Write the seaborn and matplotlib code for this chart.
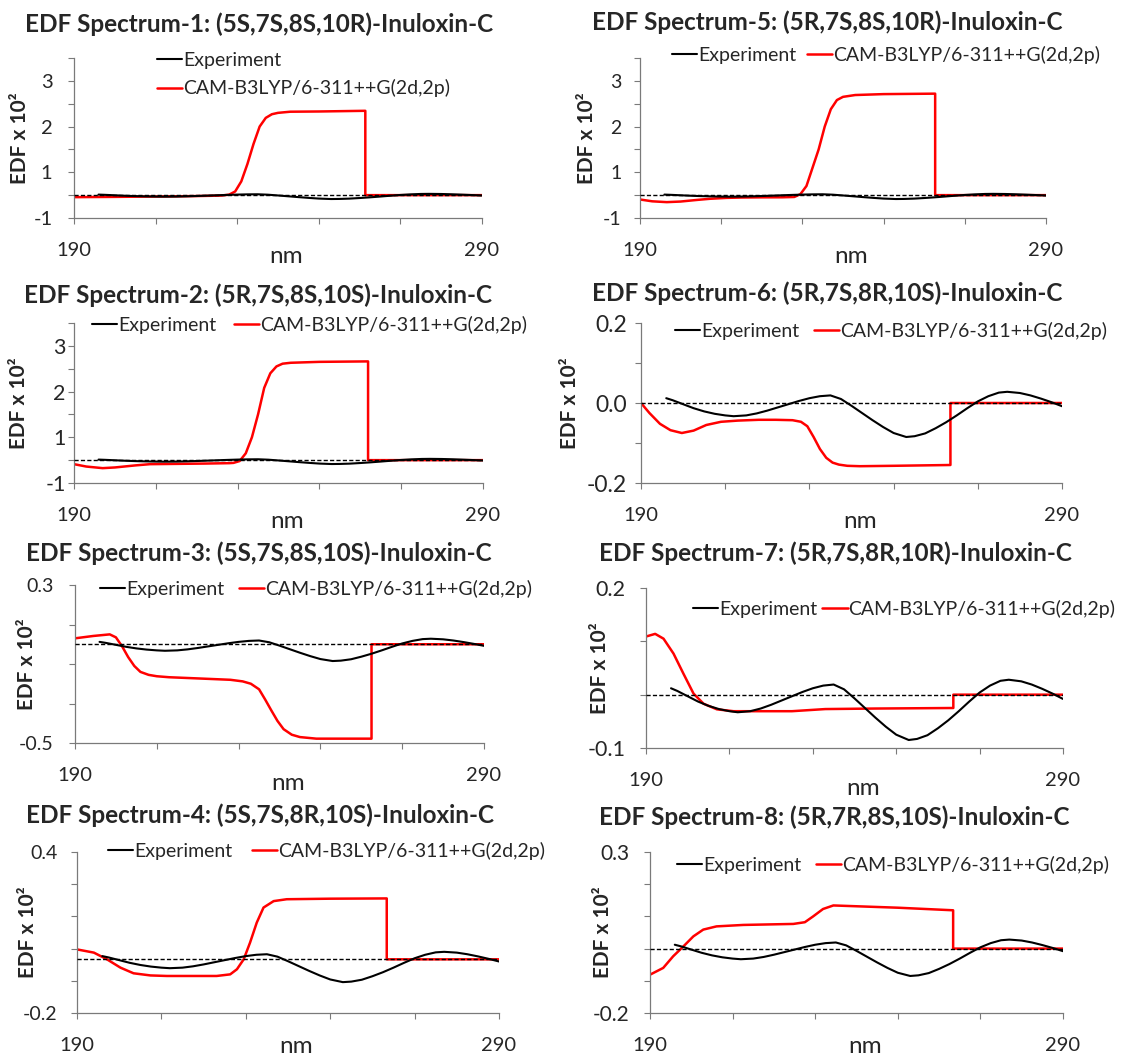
import numpy as np
import pandas as pd
import matplotlib
matplotlib.use("Agg")
import matplotlib.pyplot as plt
import seaborn as sns

sns.set_style("ticks")
plt.rcParams["font.family"] = ["Lato", "DejaVu Sans"]

W, H = 1126, 1059
EXP_LABEL = "Experiment"
CALC_LABEL = "CAM-B3LYP/6-311++G(2d,2p)"

# ---- experimental EDF (same curve in every panel) ----
exp_wl = [196, 197.5, 200, 202.5, 205, 207.5, 210, 212, 215, 217.5, 220, 222.5, 225,
          227.5, 230, 232.5, 235, 237.5, 240, 242.5, 245, 247.5, 250, 253, 255, 257.5,
          260, 262.5, 265, 267.5, 270, 272.5, 275, 277, 280, 282.5, 285, 287.5, 290]
exp_edf = [0.012, 0.007, -0.003, -0.013, -0.021, -0.027, -0.031, -0.033, -0.031, -0.026,
           -0.019, -0.011, -0.003, 0.005, 0.012, 0.017, 0.019, 0.010, -0.007, -0.025,
           -0.043, -0.060, -0.075, -0.085, -0.083, -0.076, -0.063, -0.048, -0.031, -0.013,
           0.004, 0.017, 0.026, 0.028, 0.025, 0.019, 0.011, 0.002, -0.008]

# ---- calculated EDF, one per stereoisomer ----
calc1_wl = [190, 200, 210, 220, 226, 228, 229.5, 231, 232.5, 234, 235.5, 237, 238.5, 240,
            243, 250, 261.4, 261.4, 270, 280, 290]
calc1_edf = [-0.044, -0.038, -0.03, -0.02, -0.01, 0.01, 0.08, 0.3, 0.68, 1.12, 1.50, 1.69,
             1.77, 1.80, 1.825, 1.83, 1.845, 0, 0, 0, 0]

calc2_wl = [190, 193, 197, 200, 205, 208.6, 216.7, 222, 228, 229, 230.5, 232, 233.5, 235,
            236.5, 238, 239.5, 241, 243, 250, 261.9, 261.9, 270, 290]
calc2_edf = [-0.088, -0.14, -0.175, -0.16, -0.115, -0.088, -0.08, -0.075, -0.066, -0.06,
             -0.02, 0.15, 0.5, 1.0, 1.58, 1.9, 2.05, 2.11, 2.13, 2.15, 2.16, 0, 0, 0]

calc3_wl = [190, 194.5, 198.5, 200, 201.5, 203, 204.5, 206, 208, 210, 213, 220, 228, 231,
            233, 235, 236.5, 238, 239.5, 241, 243, 245, 249, 262.5, 262.5, 270, 290]
calc3_edf = [0.030, 0.042, 0.050, 0.035, -0.01, -0.065, -0.11, -0.14, -0.155, -0.162,
             -0.167, -0.173, -0.18, -0.188, -0.2, -0.228, -0.28, -0.335, -0.388, -0.43,
             -0.458, -0.47, -0.478, -0.478, 0, 0, 0]

calc4_wl = [190, 194, 197.1, 200.3, 203.4, 207.4, 211.3, 223.1, 226.3, 227.9, 229.5, 231.0,
            232.6, 234.2, 236.6, 239.7, 250, 263.4, 263.4, 270, 290]
calc4_edf = [0.037, 0.025, 0.0, -0.031, -0.052, -0.060, -0.062, -0.062, -0.056, -0.037, 0.0,
             0.062, 0.137, 0.193, 0.217, 0.224, 0.226, 0.227, 0, 0, 0]

calc5_wl = [190, 193, 196.6, 200, 204, 207.2, 211.3, 215, 220, 225, 228, 229.5, 231, 232.5,
            234, 235.5, 237, 238.5, 240, 243, 250, 262.7, 262.7, 270, 290]
calc5_edf = [-0.095, -0.135, -0.153, -0.14, -0.105, -0.08, -0.06, -0.052, -0.048, -0.047,
             -0.04, 0.02, 0.2, 0.6, 1.0, 1.5, 1.88, 2.08, 2.15, 2.19, 2.21, 2.22, 0, 0, 0]

calc6_wl = [190, 192, 194.5, 197, 199.7, 202.5, 205.5, 209, 213, 218, 222, 226, 228, 229.5,
            231, 232.5, 234, 235.5, 237, 239, 242, 250, 263.5, 263.5, 270, 290]
calc6_edf = [0.0, -0.025, -0.052, -0.068, -0.075, -0.069, -0.055, -0.047, -0.044, -0.042,
             -0.042, -0.043, -0.047, -0.058, -0.085, -0.115, -0.137, -0.149, -0.154, -0.157,
             -0.158, -0.157, -0.155, 0, 0, 0]

calc7_wl = [190, 192.2, 194.2, 196.6, 199, 201.4, 203.8, 207, 211, 218, 225, 233, 245,
            263.7, 263.7, 270, 290]
calc7_edf = [0.109, 0.114, 0.105, 0.077, 0.039, 0.002, -0.017, -0.0275, -0.031, -0.031,
             -0.031, -0.027, -0.026, -0.025, 0, 0, 0]

calc8_wl = [190, 193.2, 195.6, 198.1, 200.5, 202.9, 206.1, 212.6, 224.7, 227.5, 229.5, 231.9,
            234.4, 250, 263.4, 263.4, 270, 290]
calc8_edf = [-0.081, -0.060, -0.024, 0.007, 0.038, 0.059, 0.069, 0.0735, 0.0766, 0.082,
             0.100, 0.123, 0.134, 0.127, 0.119, 0, 0, 0]

titles = [
    "EDF Spectrum-1: (5S,7S,8S,10R)-Inuloxin-C",
    "EDF Spectrum-2: (5R,7S,8S,10S)-Inuloxin-C",
    "EDF Spectrum-3: (5S,7S,8S,10S)-Inuloxin-C",
    "EDF Spectrum-4: (5S,7S,8R,10S)-Inuloxin-C",
    "EDF Spectrum-5: (5R,7S,8S,10R)-Inuloxin-C",
    "EDF Spectrum-6: (5R,7S,8R,10S)-Inuloxin-C",
    "EDF Spectrum-7: (5R,7S,8R,10R)-Inuloxin-C",
    "EDF Spectrum-8: (5R,7R,8S,10S)-Inuloxin-C",
]
calc_wl = [calc1_wl, calc2_wl, calc3_wl, calc4_wl, calc5_wl, calc6_wl, calc7_wl, calc8_wl]
calc_edf = [calc1_edf, calc2_edf, calc3_edf, calc4_edf, calc5_edf, calc6_edf, calc7_edf, calc8_edf]

# y axes (Excel-style: only some ticks labelled)
big_ticks = [-0.5, 0, 0.5, 1.0, 1.5, 2.0, 2.5, 3.0]
big_labels = ["-1", "", "1", "", "2", "", "3", ""]
y_ticks = [big_ticks, big_ticks, [-0.5, -0.3, -0.1, 0.1, 0.3],
           [-0.2, -0.08, 0.04, 0.16, 0.28, 0.4],
           big_ticks, [-0.2, -0.1, 0.0, 0.1, 0.2], [-0.1, 0.0, 0.1, 0.2],
           [-0.2, -0.1, 0.0, 0.1, 0.2, 0.3]]
y_labels = [big_labels, big_labels, ["-0.5", "", "", "", "0.3"],
            ["-0.2", "", "", "", "", "0.4"],
            big_labels, ["-0.2", "", "0.0", "", "0.2"], ["-0.1", "", "", "0.2"],
            ["-0.2", "", "", "", "", "0.3"]]
x_ticks = [190, 210, 230, 250, 270, 290]
x_labels = ["190", "", "", "", "", "290"]

# ---- layout in pixels: axes (x0, x1, ytop, ybot), title centre, legend anchor ----
axes_px = [(74, 482, 58, 218), (74, 483, 323, 483), (75, 484, 585, 743), (77, 499, 852, 1013),
           (640, 1046, 58, 218), (641, 1062, 323, 483), (646, 1063, 588, 748), (650, 1063, 852, 1013)]
title_px = [(259, 24), (258, 295), (259, 553), (260, 815),
            (827, 22), (827, 293), (835, 553), (834, 817)]
legend_px = [(157, 74.5), (92, 325), (100, 589), (108, 851),
             (672, 55), (675, 331), (693, 609), (677, 865)]
legend_ncol = [1, 2, 2, 2, 2, 2, 2, 2]
legend_colsp = [1, 0.9, 0.75, 1.0, 0.55, 0.75, 0.25, 0.75]
ylab_x_px = [20, 19, 27, 28, 587, 570, 600, 603]
ytick_pad = [11, 1.5, 11, 9.5, 9, 5.5, 10.5, 10]
ytick_size = [14.5, 15.5, 14, 14, 14, 16.5, 15.5, 15]
nm_drop = [45, 45, 47, 40, 45, 45, 47, 40]

fig = plt.figure(figsize=(W / 100, H / 100), dpi=100)
spine_col = "#7a7a7a"

for i in range(8):
    x0, x1, yt, yb = axes_px[i]
    ax = fig.add_axes([x0 / W, 1 - yb / H, (x1 - x0) / W, (yb - yt) / H])

    exp_df = pd.DataFrame({"wl": exp_wl, "edf": exp_edf})
    calc_df = pd.DataFrame({"wl": calc_wl[i], "edf": calc_edf[i]})
    sns.lineplot(data=exp_df, x="wl", y="edf", color="black", lw=1.5,
                 estimator=None, sort=False, label=EXP_LABEL, ax=ax, zorder=3)
    sns.lineplot(data=calc_df, x="wl", y="edf", color="#ff0000", lw=1.8,
                 estimator=None, sort=False, label=CALC_LABEL, ax=ax, zorder=2)
    ax.axhline(0, color="black", lw=1, ls=(0, (3, 1.6)), zorder=4)

    ax.set_xlim(190, 290)
    ax.set_ylim(y_ticks[i][0], y_ticks[i][-1])
    ax.set_xticks(x_ticks, x_labels)
    ax.set_yticks(y_ticks[i], y_labels[i])
    ax.tick_params(axis="x", length=4.5, width=0.8, color=spine_col, pad=13, labelsize=14.5)
    ax.tick_params(axis="y", length=4.5, width=0.8, color=spine_col, pad=ytick_pad[i],
                   labelsize=ytick_size[i])
    sns.despine(ax=ax)
    for s in ["left", "bottom"]:
        ax.spines[s].set_color(spine_col)
        ax.spines[s].set_linewidth(0.9)

    ax.set_ylabel("EDF x 10²", fontsize=15, fontweight="bold")
    ax.yaxis.set_label_coords((ylab_x_px[i] - x0) / (x1 - x0), 0.5)
    ax.yaxis.label.set_va("center")
    ax.set_xlabel("nm", fontsize=17.5)
    ax.xaxis.label.set_va("baseline")
    ax.xaxis.set_label_coords(0.52, -nm_drop[i] / (yb - yt))

    lx, ly = legend_px[i]
    ax.legend(loc="center left", bbox_to_anchor=(lx / W, 1 - ly / H),
              bbox_transform=fig.transFigure, ncol=legend_ncol[i], frameon=False,
              fontsize=14, handlelength=1.3, handletextpad=0.05, borderpad=0,
              borderaxespad=0, columnspacing=legend_colsp[i], labelspacing=0.55)

    tx, ty = title_px[i]
    fig.text(tx / W, 1 - ty / H, titles[i], ha="center", va="center",
             fontsize=17.5, fontweight="bold")

fig.savefig("out.png", dpi=100)
